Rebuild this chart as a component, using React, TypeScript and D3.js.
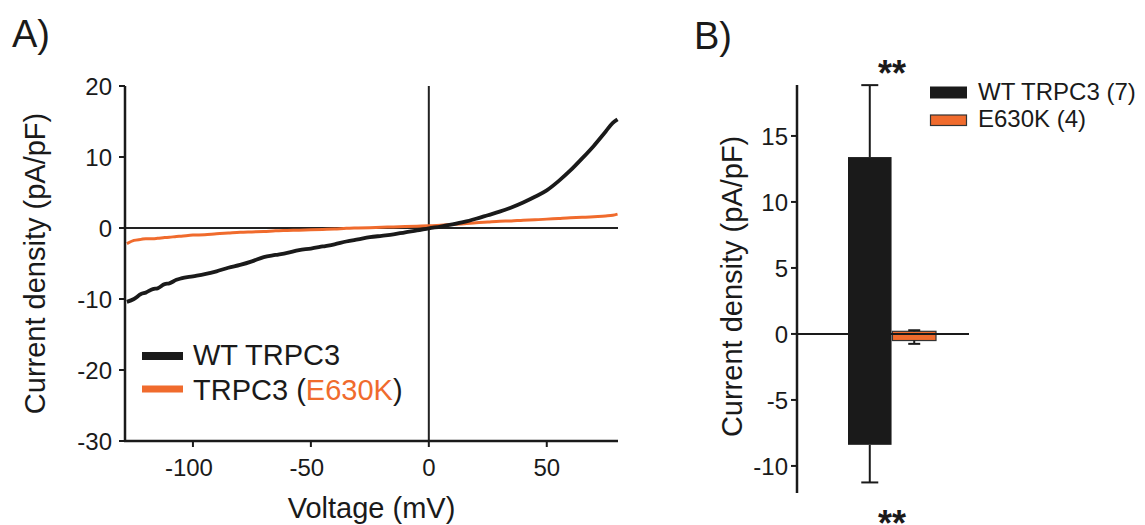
import React from "react";
import * as d3 from "d3";

// ---------- Panel A data (I-V curves) ----------
const voltages = [-128, -125, -122, -120, -117, -115, -112, -110, -107, -105,
  -100, -95, -90, -85, -80, -75, -70, -65, -60, -55, -50, -45, -40, -35, -30,
  -25, -20, -15, -10, -5, 0, 5, 10, 15, 20, 25, 30, 35, 40, 45, 50, 55, 60, 65,
  70, 75, 78, 80];
const wtCurrent = [-10.4, -10.0, -9.3, -9.1, -8.6, -8.5, -7.9, -7.8, -7.3, -7.1,
  -6.8, -6.5, -6.1, -5.6, -5.2, -4.7, -4.1, -3.8, -3.5, -3.1, -2.9, -2.6, -2.3,
  -1.9, -1.6, -1.3, -1.1, -0.9, -0.6, -0.35, -0.05, 0.2, 0.5, 0.85, 1.3, 1.8,
  2.3, 2.9, 3.6, 4.4, 5.3, 6.6, 8.1, 9.8, 11.6, 13.6, 14.8, 15.3];
const e630kCurrent = [-2.2, -1.75, -1.6, -1.5, -1.5, -1.45, -1.35, -1.3, -1.2,
  -1.15, -1.0, -0.95, -0.8, -0.7, -0.6, -0.55, -0.5, -0.4, -0.35, -0.3, -0.25,
  -0.2, -0.15, -0.05, 0, 0.05, 0.1, 0.15, 0.2, 0.25, 0.3, 0.4, 0.5, 0.6, 0.75,
  0.85, 0.95, 1.0, 1.1, 1.15, 1.25, 1.35, 1.45, 1.5, 1.6, 1.7, 1.8, 1.95];
const xTicksA = [-100, -50, 0, 50];
const yTicksA = [20, 10, 0, -10, -20, -30];

// ---------- Panel B data (bar chart) ----------
const groups = ["WT TRPC3 (7)", "E630K (4)"];
const outwardMean = [13.4, 0.2];
const outwardSem = [5.45, 0.08];
const inwardMean = [-8.4, -0.5];
const inwardSem = [2.85, 0.25];
const yTicksB = [15, 10, 5, 0, -5, -10];

const BLACK = "#1a1a1a";
const ORANGE = "#f06b2d";
const FONT = "'Liberation Sans', Arial, Helvetica, sans-serif";

export default function App() {
  // Panel A scales
  const xA = d3.scaleLinear().domain([-128.8, 80.2]).range([125, 618]);
  const yA = d3.scaleLinear().domain([-30, 20]).range([441, 86]);
  const line = d3
    .line<number>()
    .x((_, i) => xA(voltages[i]))
    .y((d) => yA(d))
    .curve(d3.curveMonotoneX);

  // Panel B scales
  const yB = d3.scaleLinear().domain([-12.05, 18.86]).range([493, 85]);
  const xB = d3.scaleBand<string>().domain(groups).range([848, 936]).paddingInner(0.02);
  const colorsB = [BLACK, ORANGE];

  return (
    <svg
      width={1145}
      height={525}
      style={{ position: "absolute", left: 0, top: 0, background: "#fff" }}
      fontFamily={FONT}
    >
      {/* ---------------- Panel A ---------------- */}
      <text x={12} y={47} fontSize={38} fill="#1a1a1a">A)</text>

      {/* zero lines */}
      <line x1={xA(-128.8)} x2={xA(80.2)} y1={yA(0)} y2={yA(0)} stroke="#222" strokeWidth={2.2} />
      <line x1={xA(0)} x2={xA(0)} y1={yA(20)} y2={yA(-30)} stroke="#222" strokeWidth={2} />

      {/* curves */}
      <path d={line(e630kCurrent) || ""} fill="none" stroke={ORANGE} strokeWidth={3} strokeLinejoin="round" />
      <path d={line(wtCurrent) || ""} fill="none" stroke={BLACK} strokeWidth={3.8} strokeLinejoin="round" />

      {/* axes */}
      <line x1={125} x2={125} y1={yA(20)} y2={yA(-30) + 1} stroke="#1a1a1a" strokeWidth={2.5} />
      <line x1={124} x2={xA(80.2)} y1={yA(-30)} y2={yA(-30)} stroke="#1a1a1a" strokeWidth={2.5} />
      {yTicksA.map((t) => (
        <g key={"ya" + t}>
          <line x1={119} x2={125} y1={yA(t)} y2={yA(t)} stroke="#1a1a1a" strokeWidth={2} />
          <text x={112} y={yA(t) + 8.6} fontSize={24} textAnchor="end" fill="#1a1a1a">{t}</text>
        </g>
      ))}
      {xTicksA.map((t) => (
        <g key={"xa" + t}>
          <line x1={xA(t)} x2={xA(t)} y1={441} y2={447} stroke="#1a1a1a" strokeWidth={2} />
          <text x={xA(t) - (t < 0 ? 4 : 0)} y={476} fontSize={24} textAnchor="middle" fill="#1a1a1a">{t}</text>
        </g>
      ))}
      <text x={371.5} y={518} fontSize={29} textAnchor="middle" fill="#1a1a1a">Voltage (mV)</text>
      <text
        transform={`translate(45, ${yA(-5)}) rotate(-90)`}
        fontSize={29}
        textAnchor="middle"
        fill="#1a1a1a"
      >
        Current density (pA/pF)
      </text>

      {/* legend A */}
      <line x1={142} x2={183} y1={356} y2={356} stroke={BLACK} strokeWidth={8} />
      <text x={193} y={365} fontSize={29} fill="#1a1a1a">WT TRPC3</text>
      <line x1={142} x2={183} y1={389} y2={389} stroke={ORANGE} strokeWidth={7} />
      <text x={193} y={400} fontSize={29} fill="#1a1a1a">
        TRPC3 (<tspan fill={ORANGE}>E630K</tspan>)
      </text>

      {/* ---------------- Panel B ---------------- */}
      <text x={694} y={49} fontSize={38} fill="#1a1a1a">B)</text>

      {/* bars */}
      {groups.map((g, i) => {
        const x0 = xB(g) as number;
        const w = xB.bandwidth();
        const cx = x0 + w / 2;
        const capW = i === 0 ? 17 : 12;
        const topEnd = outwardMean[i] + outwardSem[i];
        const botEnd = inwardMean[i] - inwardSem[i];
        return (
          <g key={g}>
            <rect
              x={x0}
              y={yB(outwardMean[i])}
              width={w}
              height={yB(0) - yB(outwardMean[i])}
              fill={colorsB[i]}
              stroke={i === 0 ? "none" : "#333"}
              strokeWidth={1.2}
            />
            <rect
              x={x0}
              y={yB(0)}
              width={w}
              height={yB(inwardMean[i]) - yB(0)}
              fill={colorsB[i]}
              stroke={i === 0 ? "none" : "#333"}
              strokeWidth={1.2}
            />
            <line x1={cx} x2={cx} y1={yB(topEnd)} y2={yB(outwardMean[i])} stroke="#1a1a1a" strokeWidth={2} />
            <line x1={cx - capW / 2} x2={cx + capW / 2} y1={yB(topEnd)} y2={yB(topEnd)} stroke="#1a1a1a" strokeWidth={2} />
            <line x1={cx} x2={cx} y1={yB(inwardMean[i])} y2={yB(botEnd)} stroke="#1a1a1a" strokeWidth={2} />
            <line x1={cx - capW / 2} x2={cx + capW / 2} y1={yB(botEnd)} y2={yB(botEnd)} stroke="#1a1a1a" strokeWidth={2} />
          </g>
        );
      })}

      {/* zero line */}
      <line x1={797} x2={969} y1={yB(0)} y2={yB(0)} stroke="#1a1a1a" strokeWidth={2} />

      {/* y axis B */}
      <line x1={797} x2={797} y1={yB(18.86)} y2={yB(-12.05)} stroke="#1a1a1a" strokeWidth={2.5} />
      {yTicksB.map((t) => (
        <g key={"yb" + t}>
          <line x1={791} x2={797} y1={yB(t)} y2={yB(t)} stroke="#1a1a1a" strokeWidth={2} />
          <text x={788} y={yB(t) + 8.6} fontSize={24} textAnchor="end" fill="#1a1a1a">{t}</text>
        </g>
      ))}
      <text
        transform={`translate(742, ${yB(3.6)}) rotate(-90)`}
        fontSize={29}
        textAnchor="middle"
        fill="#1a1a1a"
      >
        Current density (pA/pF)
      </text>

      {/* significance stars */}
      <text x={892} y={86} fontSize={36} fontWeight="bold" textAnchor="middle" fill="#1a1a1a">**</text>
      <text x={892} y={536} fontSize={36} fontWeight="bold" textAnchor="middle" fill="#1a1a1a">**</text>

      {/* legend B */}
      <rect x={930} y={86.5} width={37} height={12} fill={BLACK} />
      <text x={978} y={100} fontSize={24} fill="#1a1a1a">{groups[0]}</text>
      <rect x={930.5} y={115} width={36} height={10.5} fill={ORANGE} stroke="#333" strokeWidth={1.2} />
      <text x={978} y={127} fontSize={24} fill="#1a1a1a">{groups[1]}</text>
    </svg>
  );
}
